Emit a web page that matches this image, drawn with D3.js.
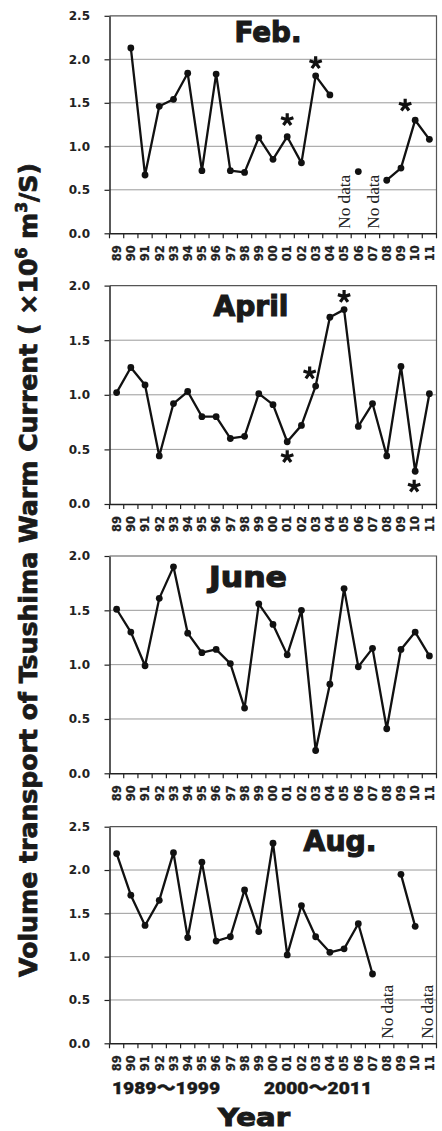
<!DOCTYPE html>
<html><head><meta charset="utf-8">
<script src="https://cdn.jsdelivr.net/npm/d3@7"></script>
<style>body{margin:0;background:#fff}svg{display:block}</style>
</head><body>
<script>
// ---------- data ----------
const years = ["89","90","91","92","93","94","95","96","97","98","99","00","01","02","03","04","05","06","07","08","09","10","11"];
const febValues   = [null,2.13,0.67,1.46,1.54,1.84,0.72,1.83,0.72,0.70,1.10,0.85,1.11,0.81,1.81,1.59,null,0.71,null,0.61,0.75,1.30,1.08];
const aprilValues = [1.02,1.25,1.09,0.44,0.92,1.03,0.80,0.80,0.60,0.62,1.01,0.91,0.57,0.72,1.08,1.71,1.78,0.71,0.92,0.44,1.26,0.30,1.01];
const juneValues  = [1.51,1.30,0.99,1.61,1.90,1.29,1.11,1.14,1.01,0.60,1.56,1.37,1.09,1.50,0.21,0.82,1.70,0.98,1.15,0.41,1.14,1.30,1.08];
const augValues   = [2.19,1.71,1.36,1.65,2.20,1.22,2.09,1.18,1.23,1.77,1.29,2.31,1.02,1.59,1.23,1.05,1.09,1.38,0.80,null,1.95,1.35,null];
const panelTitles = ["Feb.","April","June","Aug."];
const panelMax    = [2.5, 2.0, 2.0, 2.5];
const febStars    = [{year:"01",side:"above"},{year:"03",side:"above"},{year:"10",side:"above"}];
const aprilStars  = [{year:"01",side:"below"},{year:"03",side:"above"},{year:"05",side:"above"},{year:"10",side:"below"}];
const febNoData   = ["05","07"];
const augNoData   = ["08","11"];
const periodLabels = ["1989～1999","2000～2011"];
const yTitle = ["Volume transport of Tsushima Warm Current ( ×10","6"," m","3","/S)"];
const xTitle = "Year";

// ---------- layout ----------
const W = 442, H = 1131;
const svg = d3.select("body").append("svg").attr("width", W).attr("height", H);
const left = 109.5, right = 436.5;
const heavy = "'Arial Black','DejaVu Sans','Noto Sans CJK JP',sans-serif";
const tickFont = "'DejaVu Sans',Verdana,sans-serif";

const x = d3.scaleBand().domain(years).range([left, right]).padding(0);
const cx = d => x(d) + x.bandwidth() / 2;

const panels = [
  {values: febValues,   top: 15.8,  bottom: 233.3,  tx: 268, ty: 42,  tw: 67, stars: febStars,   starOff: {"01":[0,-17],"03":[0,-13],"10":[-10,-15]}, noData: febNoData},
  {values: aprilValues, top: 285.6, bottom: 504,    tx: 251, ty: 316, tw: 75, stars: aprilStars, starOff: {"01":[0,15],"03":[-6,-13],"05":[0,-13],"10":[-1,15]}, noData: []},
  {values: juneValues,  top: 556,   bottom: 773.3,  tx: 248, ty: 587, tw: 78, stars: [], starOff: {}, noData: []},
  {values: augValues,   top: 826.7, bottom: 1043.3, tx: 340, ty: 851, tw: 73, stars: [], starOff: {}, noData: augNoData}
];

// asterisk path (5 arms)
function asterisk(r) {
  let p = "";
  for (let i = 0; i < 5; i++) {
    const a = -Math.PI / 2 + i * 2 * Math.PI / 5;
    p += `M0,0L${(r * Math.cos(a)).toFixed(2)},${(r * Math.sin(a)).toFixed(2)}`;
  }
  return p;
}

panels.forEach((p, i) => {
  const max = panelMax[i];
  const y = d3.scaleLinear().domain([0, max]).range([p.bottom, p.top]);
  const g = svg.append("g");
  const ticks = d3.range(0, max + 0.001, 0.5);

  // gridlines
  g.selectAll("line.grid").data(ticks.filter(t => t > 0 && t < max)).join("line")
    .attr("x1", left).attr("x2", right).attr("y1", d => y(d)).attr("y2", d => y(d))
    .attr("stroke", "#9a9a9a").attr("stroke-width", 1);
  // top & right border
  g.append("path").attr("d", `M${left},${y(max)}H${right}V${y(0)}`)
    .attr("fill", "none").attr("stroke", "#555").attr("stroke-width", 1.2);

  // y axis
  const ya = g.append("g").attr("transform", `translate(${left},0)`)
    .call(d3.axisLeft(y).tickValues(ticks).tickFormat(d3.format(".1f")).tickSize(5).tickSizeOuter(0).tickPadding(14.5));
  ya.select(".domain").attr("stroke", "#222").attr("stroke-width", 1.5);
  ya.selectAll(".tick line").attr("stroke", "#222").attr("stroke-width", 1.2);
  ya.selectAll("text").attr("font-family", tickFont).attr("font-weight", "bold")
    .attr("font-size", 12).attr("fill", "#222");

  // x axis
  const xa = g.append("g").attr("transform", `translate(0,${p.bottom})`)
    .call(d3.axisBottom(x).tickSize(0).tickSizeOuter(0).tickPadding(0));
  xa.select(".domain").attr("stroke", "#222").attr("stroke-width", 1.5);
  xa.selectAll(".tick text")
    .attr("transform", "rotate(-90)").attr("text-anchor", "end")
    .attr("x", -12).attr("y", 0).attr("dy", "0.37em")
    .attr("font-family", tickFont).attr("font-weight", "bold").attr("font-size", 11.5)
    .attr("stroke", "#222").attr("stroke-width", 0.25).attr("fill", "#222");
  const bounds = years.map(d => x(d)).concat([x.range()[1]]);
  g.selectAll("line.xt").data(bounds).join("line")
    .attr("x1", d => d).attr("x2", d => d).attr("y1", p.bottom).attr("y2", p.bottom + 5)
    .attr("stroke", "#222").attr("stroke-width", 1.2);

  // series
  const pts = years.map((yr, k) => ({yr, v: p.values[k]}));
  const line = d3.line().defined(d => d.v != null).x(d => cx(d.yr)).y(d => y(d.v));
  g.append("path").datum(pts).attr("d", line)
    .attr("fill", "none").attr("stroke", "#111").attr("stroke-width", 2.3).attr("stroke-linejoin", "round");
  g.selectAll("circle").data(pts.filter(d => d.v != null)).join("circle")
    .attr("cx", d => cx(d.yr)).attr("cy", d => y(d.v)).attr("r", 3.4).attr("fill", "#111");

  // asterisks
  g.selectAll("path.star").data(p.stars).join("path")
    .attr("transform", d => {
      const v = p.values[years.indexOf(d.year)];
      const o = p.starOff[d.year];
      return `translate(${cx(d.year) + o[0]},${y(v) + o[1]})`;
    })
    .attr("d", asterisk(6.5)).attr("stroke", "#111").attr("stroke-width", 3.2).attr("fill", "none");

  // No data labels
  g.selectAll("text.nd").data(p.noData).join("text")
    .attr("transform", d => `translate(${Math.min(cx(d) + 6, right - 4)},${p.bottom - 4.5}) rotate(-90)`)
    .attr("font-family", "'Liberation Serif','Times New Roman',serif").attr("font-size", 16)
    .attr("textLength", 54).attr("lengthAdjust", "spacingAndGlyphs")
    .attr("fill", "#222").text("No data");

  // panel title
  g.append("text").attr("x", p.tx).attr("y", p.ty).attr("text-anchor", "middle")
    .attr("font-family", heavy).attr("font-weight", 900).attr("font-size", 29)
    .attr("stroke", "#1a1a1a").attr("stroke-width", 1.2)
    .attr("textLength", p.tw).attr("lengthAdjust", "spacingAndGlyphs")
    .attr("fill", "#1a1a1a").text(panelTitles[i]);
});

// period labels
const periodX = [166, 318];
svg.selectAll("text.period").data(periodLabels).join("text")
  .attr("x", (d, k) => periodX[k]).attr("y", 1094).attr("text-anchor", "middle")
  .attr("font-family", "Roboto,'Noto Sans CJK JP',sans-serif").attr("font-weight", 900).attr("font-size", 16.5)
  .attr("stroke", "#1a1a1a").attr("stroke-width", 0.4)
  .attr("textLength", 108).attr("lengthAdjust", "spacingAndGlyphs")
  .attr("fill", "#1a1a1a").text(d => d);

// x title
svg.append("text").attr("x", 254).attr("y", 1126).attr("text-anchor", "middle")
  .attr("font-family", heavy).attr("font-weight", 900).attr("font-size", 24)
  .attr("stroke", "#1a1a1a").attr("stroke-width", 1)
  .attr("textLength", 72).attr("lengthAdjust", "spacingAndGlyphs")
  .attr("fill", "#1a1a1a").text(xTitle);

// y title
const yt = svg.append("text").attr("transform", "translate(37,570) rotate(-90)")
  .attr("text-anchor", "middle")
  .attr("font-family", heavy).attr("font-weight", 900).attr("font-size", 26)
  .attr("stroke", "#1a1a1a").attr("stroke-width", 0.8).attr("fill", "#1a1a1a");
yTitle.forEach((s, k) => {
  const sup = (k === 1 || k === 3);
  yt.append("tspan").text(s)
    .attr("font-size", sup ? 16 : null)
    .attr("dy", sup ? -10 : (k > 0 ? 10 : 0));
});
const len = yt.node().getComputedTextLength();
const fs = 26 * 814 / len;
yt.attr("font-size", fs);
yt.selectAll("tspan").each(function(d, k) {
  const sup = (k === 1 || k === 3);
  d3.select(this).attr("font-size", sup ? fs * 0.62 : null).attr("dy", sup ? -fs * 0.38 : (k > 0 ? fs * 0.38 : 0));
});
</script>
</body></html>
